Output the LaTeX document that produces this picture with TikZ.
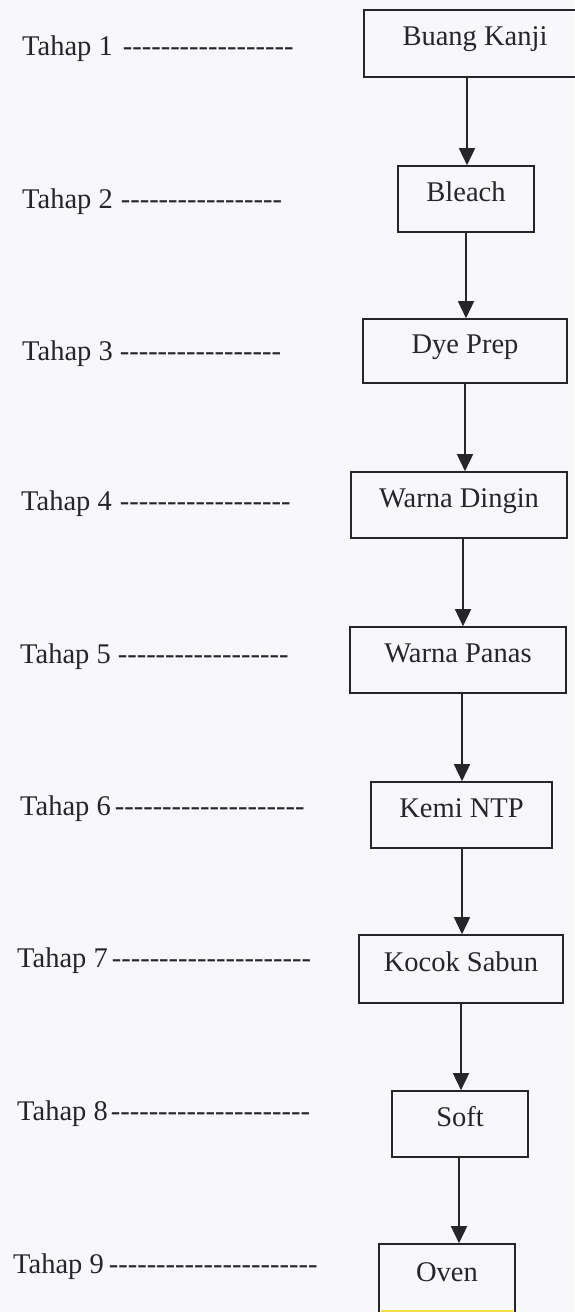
\documentclass[tikz,border=0pt]{standalone}
\usepackage{fontspec}
\setmainfont{Liberation Serif}
\usetikzlibrary{arrows.meta}
\definecolor{paper}{RGB}{248,247,249}
\definecolor{ink}{RGB}{38,38,42}
\definecolor{hl}{RGB}{243,220,70}
\newcommand{\hyrow}[1]{\foreach \i in {1,...,#1}{\mbox{-}}}
\newcommand{\tahaptext}[3]{Tahap #1\hspace{#2pt}\hyrow{#3}}
\begin{document}
\begin{tikzpicture}[x=1pt,y=-1pt,
  stepbox/.style={draw=ink, line width=1.6pt, inner sep=0pt,
    font=\fontsize{28.5}{32}\selectfont, text=ink,
    text height=0.7em, text depth=0.25em},
  tahaplbl/.style={anchor=base west, inner sep=0pt,
    font=\fontsize{28.5}{32}\selectfont, text=ink},
  arr/.style={draw=ink, line width=1.5pt, -{Triangle[length=17pt,width=16pt]}}]
\useasboundingbox (0,0) rectangle (574,1312);
\fill[paper] (0,0) rectangle (574,1312);

% process boxes
\node[stepbox, minimum width=222pt, minimum height=67pt] (n1) at (475,43.5) {Buang Kanji};
\node[stepbox, minimum width=136pt, minimum height=66pt] (n2) at (466,199) {Bleach};
\node[stepbox, minimum width=204pt, minimum height=64pt] (n3) at (465,351) {Dye Prep};
\node[stepbox, minimum width=216pt, minimum height=66pt] (n4) at (459,505) {Warna Dingin};
\node[stepbox, minimum width=216pt, minimum height=66pt] (n5) at (458,660) {Warna Panas};
\node[stepbox, minimum width=181pt, minimum height=66pt] (n6) at (461.5,815) {Kemi NTP};
\node[stepbox, minimum width=204pt, minimum height=68pt] (n7) at (461,969) {Kocok Sabun};
\node[stepbox, minimum width=136pt, minimum height=66pt] (n8) at (460,1124) {Soft};
\node[stepbox, minimum width=136pt, minimum height=70pt] (n9) at (447,1279) {Oven};
\fill[hl] (381,1310) rectangle (513,1312);

% arrow columns
\coordinate (a1) at (467,0);
\coordinate (a2) at (466,0);
\coordinate (a3) at (465,0);
\coordinate (a4) at (463,0);
\coordinate (a5) at (462,0);
\coordinate (a6) at (462,0);
\coordinate (a7) at (461,0);
\coordinate (a8) at (459,0);
\draw[arr] (n1.south -| a1) -- (n2.north -| a1);
\draw[arr] (n2.south -| a2) -- (n3.north -| a2);
\draw[arr] (n3.south -| a3) -- (n4.north -| a3);
\draw[arr] (n4.south -| a4) -- (n5.north -| a4);
\draw[arr] (n5.south -| a5) -- (n6.north -| a5);
\draw[arr] (n6.south -| a6) -- (n7.north -| a6);
\draw[arr] (n7.south -| a7) -- (n8.north -| a7);
\draw[arr] (n8.south -| a8) -- (n9.north -| a8);

% stage labels
\node[tahaplbl] (t1) at (22,55) {\tahaptext{1}{10}{18}};
\node[tahaplbl] (t2) at (22,208) {\tahaptext{2}{8}{17}};
\node[tahaplbl] (t3) at (22,360) {\tahaptext{3}{7}{17}};
\node[tahaplbl] (t4) at (21,510) {\tahaptext{4}{8}{18}};
\node[tahaplbl] (t5) at (20,663) {\tahaptext{5}{7}{18}};
\node[tahaplbl] (t6) at (20,815) {\tahaptext{6}{4}{20}};
\node[tahaplbl] (t7) at (17,967) {\tahaptext{7}{4}{21}};
\node[tahaplbl] (t8) at (17,1120) {\tahaptext{8}{3}{21}};
\node[tahaplbl] (t9) at (13,1273) {\tahaptext{9}{5}{22}};
\end{tikzpicture}
\end{document}
